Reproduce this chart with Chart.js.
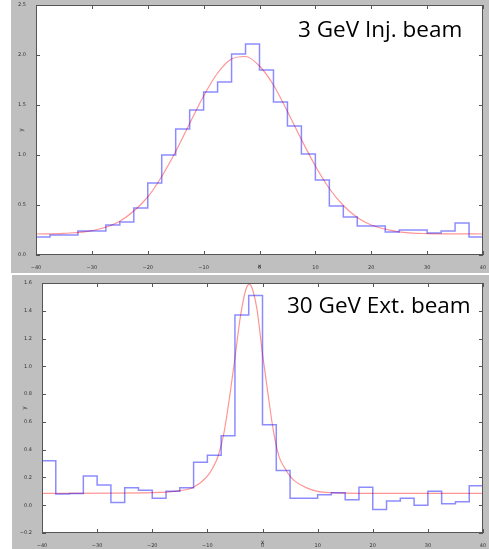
<!DOCTYPE html>
<html>
<head>
<meta charset="utf-8">
<script src="https://cdn.jsdelivr.net/npm/chart.js@4.4.1/dist/chart.umd.min.js"></script>
<style>
  body { margin: 0; background: #fff; width: 489px; height: 549px; position: relative; overflow: hidden; }
  .panel { position: absolute; background: #bfbfbf; }
  .beam { position: absolute; font-family: "Open Sans", Lato, sans-serif; color: #000; white-space: nowrap; line-height: 1; }
</style>
</head>
<body>
<div class="panel" style="left:11px;top:0;width:478px;height:273px"><canvas id="chartInj"></canvas></div>
<div class="panel" style="left:12px;top:275px;width:477px;height:274px"><canvas id="chartExt"></canvas></div>
<div class="beam" style="left:298px;top:18px;font-size:22.5px">3 GeV Inj. beam</div>
<div class="beam" style="left:287px;top:294px;font-size:22.5px">30 GeV Ext. beam</div>
<script>
// bin edges (2.5 wide) shared by both histograms
const binEdges = [-40, -37.5, -35, -32.5, -30, -27.5, -25, -22.5, -20, -17.5, -15, -12.5, -10, -7.5, -5, -2.5,
  0, 2.5, 5, 7.5, 10, 12.5, 15, 17.5, 20, 22.5, 25, 27.5, 30, 32.5, 35, 37.5, 40];

// 3 GeV injection beam
const injCounts = [0.18, 0.20, 0.20, 0.24, 0.24, 0.30, 0.33, 0.47, 0.72, 1.00, 1.26, 1.45, 1.63, 1.73, 2.01, 2.11,
  1.85, 1.53, 1.29, 1.01, 0.75, 0.49, 0.38, 0.29, 0.29, 0.23, 0.25, 0.25, 0.22, 0.24, 0.32, 0.18];
const injFitX = [-40, -35, -30, -25, -20, -17.5, -15, -12.5, -10, -7.5, -5, -2.5, 0, 2.5, 5, 7.5, 10, 12.5, 15, 17.5, 20, 25, 30, 35, 40];
const injFitY = [0.21, 0.217, 0.243, 0.338, 0.58, 0.785, 1.035, 1.315, 1.59, 1.82, 1.96, 1.985, 1.89, 1.70, 1.435, 1.155,
  0.89, 0.665, 0.495, 0.375, 0.30, 0.232, 0.214, 0.211, 0.21];
const injYTicks = [0, 0.5, 1.0, 1.5, 2.0, 2.5];

// 30 GeV extraction beam
const extCounts = [0.32, 0.08, 0.085, 0.21, 0.145, 0.02, 0.125, 0.107, 0.05, 0.10, 0.125, 0.31, 0.36, 0.50, 1.37, 1.51,
  0.58, 0.25, 0.05, 0.05, 0.075, 0.09, 0.04, 0.13, -0.03, 0.03, 0.05, 0.00, 0.10, 0.01, 0.025, 0.14];
const extFitX = [-40, -20, -15, -12.5, -10, -9, -8, -7, -6, -5, -4, -3, -2.4, -2, -1, 0, 1, 2, 3, 4, 5, 6, 8, 10, 12.5, 15, 20, 40];
const extFitY = [0.085, 0.09, 0.105, 0.13, 0.21, 0.27, 0.36, 0.52, 0.77, 1.06, 1.36, 1.555, 1.59, 1.575, 1.41, 1.09,
  0.80, 0.53, 0.35, 0.27, 0.21, 0.17, 0.125, 0.10, 0.09, 0.087, 0.085, 0.085];
const extYTicks = [-0.2, 0, 0.2, 0.4, 0.6, 0.8, 1.0, 1.2, 1.4, 1.6];

const xTicks = [-40, -30, -20, -10, 0, 10, 20, 30, 40];

const minus = (s) => s.replace("-", "\u2212");

// white plot area, frame and inward ticks on all four sides
const frameTicks = {
  id: "frameTicks",
  beforeDraw(chart) {
    const { ctx, chartArea: a } = chart;
    ctx.save();
    ctx.fillStyle = "#fff";
    ctx.fillRect(a.left, a.top, a.right - a.left, a.bottom - a.top);
    ctx.restore();
  },
  afterDraw(chart) {
    const { ctx, chartArea: a, scales } = chart;
    ctx.save();
    ctx.strokeStyle = "#555";
    ctx.lineWidth = 1;
    ctx.strokeRect(a.left + 0.5, a.top + 0.5, a.right - a.left - 1, a.bottom - a.top - 1);
    ctx.beginPath();
    scales.x.ticks.forEach((t) => {
      const px = Math.round(scales.x.getPixelForValue(t.value)) + 0.5;
      ctx.moveTo(px, a.bottom); ctx.lineTo(px, a.bottom - 4);
      ctx.moveTo(px, a.top); ctx.lineTo(px, a.top + 4);
    });
    scales.y.ticks.forEach((t) => {
      const py = Math.round(scales.y.getPixelForValue(t.value)) + 0.5;
      ctx.moveTo(a.left, py); ctx.lineTo(a.left + 4, py);
      ctx.moveTo(a.right, py); ctx.lineTo(a.right - 4, py);
    });
    ctx.stroke();
    ctx.restore();
  },
};

const makeChart = (id, counts, fitX, fitY, yTicks, yMin, yMax, box) => {
  const histo = binEdges.map((x, i) => ({ x: x, y: counts[Math.min(i, counts.length - 1)] }));
  const fit = fitX.map((x, i) => ({ x: x, y: fitY[i] }));
  const tickFont = { family: "DejaVu Sans", size: 5 };
  return new Chart(document.getElementById(id), {
    type: "line",
    data: {
      datasets: [
        {
          data: histo,
          stepped: "before",
          borderColor: "rgba(0, 0, 255, 0.45)",
          borderWidth: 1.5,
          pointRadius: 0,
          fill: false,
        },
        {
          data: fit,
          cubicInterpolationMode: "monotone",
          borderColor: "rgba(255, 0, 0, 0.42)",
          borderWidth: 1.2,
          pointRadius: 0,
          fill: false,
        },
      ],
    },
    options: {
      responsive: true,
      maintainAspectRatio: false,
      animation: false,
      events: [],
      layout: { padding: { top: box.top, right: box.right, left: 0, bottom: 0 } },
      plugins: { legend: { display: false }, tooltip: { enabled: false } },
      scales: {
        x: {
          type: "linear",
          min: -40,
          max: 40,
          afterBuildTicks: (s) => { s.ticks = xTicks.map((v) => ({ value: v })); },
          afterFit: (s) => { s.height = box.xh; },
          grid: { display: false },
          border: { display: false },
          ticks: { autoSkip: false, maxRotation: 0, padding: 2, color: "#333", font: tickFont,
            callback: (v) => minus(String(v)) },
          title: { display: true, text: "x", color: "#333", font: { family: "DejaVu Sans", size: 6 }, padding: { top: 0, bottom: 3.4 } },
        },
        y: {
          min: yMin,
          max: yMax,
          afterBuildTicks: (s) => { s.ticks = yTicks.map((v) => ({ value: v })); },
          afterFit: (s) => { s.width = box.yw; },
          grid: { display: false },
          border: { display: false },
          ticks: { autoSkip: false, padding: 2, color: "#333", font: tickFont,
            callback: (v) => minus(Number(v).toFixed(1)) },
          title: { display: true, text: "y", color: "#333", font: { family: "DejaVu Sans", size: 6 }, padding: { top: box.ytp, bottom: 0 } },
        },
      },
    },
    plugins: [frameTicks],
  });
};

makeChart("chartInj", injCounts, injFitX, injFitY, injYTicks, 0, 2.5, { top: 5, right: 6, xh: 18, yw: 25, ytp: 6.4 });
makeChart("chartExt", extCounts, extFitX, extFitY, extYTicks, -0.2, 1.6, { top: 8, right: 6, xh: 16, yw: 30, ytp: 8.4 });
</script>
</body>
</html>
